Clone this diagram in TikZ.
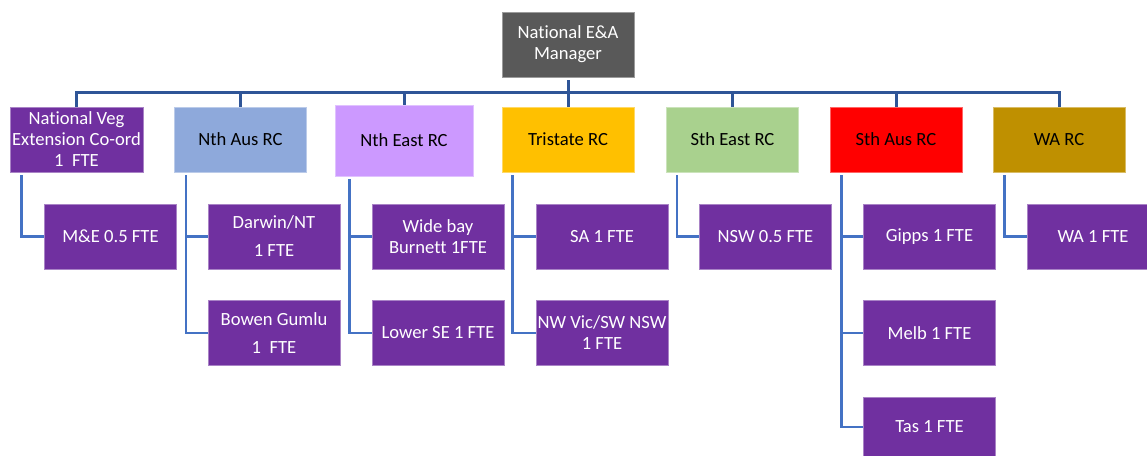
\documentclass[tikz,border=0pt]{standalone}
\usepackage{fontspec}
\setmainfont{Carlito}[Ligatures=NoCommon]
\definecolor{cpurple}{HTML}{7030A0}
\definecolor{cgray}{HTML}{595959}
\definecolor{cnthaus}{HTML}{8EA9DB}
\definecolor{cntheast}{HTML}{CC99FF}
\definecolor{ctri}{HTML}{FFC000}
\definecolor{csthe}{HTML}{A9D18E}
\definecolor{cstha}{HTML}{FF0000}
\definecolor{cwa}{HTML}{BF9000}
\definecolor{cbus}{HTML}{2F5597}
\definecolor{cline}{HTML}{4472C4}
\tikzset{
  box/.style={rectangle, inner sep=0pt, align=center, minimum width=132pt, minimum height=65pt,
    font=\fontsize{18.6}{21}\selectfont, line width=0.8pt},
  pbox/.style={box, fill=cpurple, draw=cpurple!60!white, text=white},
  cbox/.style={box, fill=#1, draw=#1!60!white, text=black},
  busline/.style={draw=cbus, line width=3pt},
  childline/.style={draw=cline, line width=2.5pt},
}
\begin{document}
\begin{tikzpicture}[x=1pt,y=-1pt]
\useasboundingbox (0,0) rectangle (1147,455);
\clip (0,0) rectangle (1147,455);
% top
\node[box, fill=cgray, draw=cgray!60!white, text=white] (mgr) at (568,44.5) {National E\&A\\Manager};
% level 2
\node[pbox, minimum width=133pt] (natveg) at (76.5,139.5) {National Veg\\Extension Co-ord\\1\ \ FTE};
\node[cbox=cnthaus] (nthaus) at (240.5,139.5) {Nth Aus RC};
\node[cbox=cntheast, minimum width=138pt, minimum height=71pt] (ntheast) at (404,140.5) {Nth East RC};
\node[cbox=ctri] (tri) at (568,139.5) {Tristate RC};
\node[cbox=csthe] (sthe) at (732.5,139.5) {Sth East RC};
\node[cbox=cstha] (stha) at (896,139.5) {Sth Aus RC};
\node[cbox=cwa] (wa) at (1059,139.5) {WA RC};
% level 3
\node[pbox] (me) at (110.5,236.5) {M\&E 0.5 FTE};
\node[pbox] (darwin) at (274,236.5) {Darwin/NT\\[7pt]1 FTE};
\node[pbox] (bowen) at (274,333) {Bowen Gumlu\\[7pt]1\ \ FTE};
\node[pbox] (widebay) at (438,236.5) {Wide bay\\Burnett 1FTE};
\node[pbox] (lowerse) at (438,333) {Lower SE 1 FTE};
\node[pbox] (sa) at (602,236.5) {SA 1 FTE};
\node[pbox] (nwvic) at (602,333) {NW Vic/SW NSW\\1 FTE};
\node[pbox] (nsw) at (765.5,236.5) {NSW 0.5 FTE};
\node[pbox] (gipps) at (929.5,236.5) {Gipps 1 FTE};
\node[pbox] (melb) at (929.5,333) {Melb 1 FTE};
\node[pbox, minimum height=60pt] (tas) at (929.5,427) {Tas 1 FTE};
\node[pbox] (wa1) at (1093,236.5) {WA 1 FTE};
% bus
\coordinate (busy) at (0,92);
\foreach \n in {natveg,nthaus,ntheast,tri,sthe,stha,wa}{
  \draw[busline] ([yshift=-3pt]mgr.south) -- (mgr.south |- busy) -| (\n.north);
}
% children
\draw[childline] ([xshift=12pt,yshift=-3pt]natveg.south west) |- (me.west);
\draw[childline] ([xshift=12pt,yshift=-3pt]nthaus.south west) |- (darwin.west);
\draw[childline] ([xshift=12pt,yshift=-3pt]nthaus.south west) |- (bowen.west);
\draw[childline] ([xshift=15pt,yshift=-3pt]ntheast.south west) |- (widebay.west);
\draw[childline] ([xshift=15pt,yshift=-3pt]ntheast.south west) |- (lowerse.west);
\draw[childline] ([xshift=11pt,yshift=-3pt]tri.south west) |- (sa.west);
\draw[childline] ([xshift=11pt,yshift=-3pt]tri.south west) |- (nwvic.west);
\draw[childline] ([xshift=11pt,yshift=-3pt]sthe.south west) |- (nsw.west);
\draw[childline] ([xshift=12pt,yshift=-3pt]stha.south west) |- (gipps.west);
\draw[childline] ([xshift=12pt,yshift=-3pt]stha.south west) |- (melb.west);
\draw[childline] ([xshift=12pt,yshift=-3pt]stha.south west) |- (tas.west);
\draw[childline] ([xshift=12pt,yshift=-3pt]wa.south west) |- (wa1.west);
\end{tikzpicture}
\end{document}
